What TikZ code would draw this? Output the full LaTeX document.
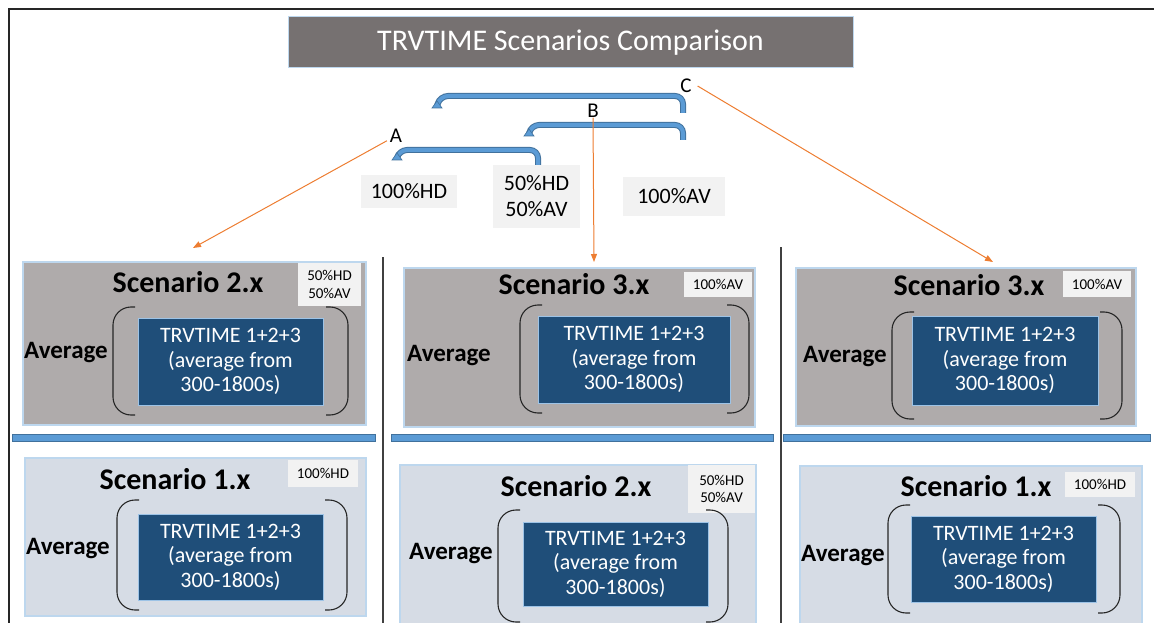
\documentclass[tikz,border=0pt]{standalone}
\usepackage{fontspec}
\setmainfont{Carlito}
\usetikzlibrary{arrows.meta}
\definecolor{titlegray}{HTML}{767171}
\definecolor{topfill}{HTML}{AFABAB}
\definecolor{lowfill}{HTML}{D6DCE5}
\definecolor{panelline}{HTML}{BDD7EE}
\definecolor{tagfill}{HTML}{F2F2F2}
\definecolor{innerblue}{HTML}{1F4E79}
\definecolor{innerline}{HTML}{9DC3E6}
\definecolor{barblue}{HTML}{5B9BD5}
\definecolor{barline}{HTML}{41719C}
\definecolor{orangeln}{HTML}{ED7D31}
\definecolor{frameln}{HTML}{262626}
\begin{document}
\begin{tikzpicture}[x=1pt,y=-1pt,
  every node/.style={inner sep=0pt, outer sep=0pt},
  panel/.style={draw=panelline, line width=1.2pt},
  toppanel/.style={panel, fill=topfill},
  lowpanel/.style={panel, fill=lowfill},
  tagbox/.style={fill=tagfill, align=center, font=\fontsize{15}{17.5}\selectfont},
  biglabel/.style={fill=tagfill, align=center, font=\fontsize{22}{26}\selectfont},
  scentitle/.style={font=\bfseries\fontsize{30}{34}\selectfont},
  avglabel/.style={font=\bfseries\fontsize{25}{28}\selectfont},
  innerbox/.style={fill=innerblue, draw=innerline, line width=1pt, text=white,
    align=center, font=\fontsize{22}{24.5}\selectfont},
  paren/.style={draw=black!85, line width=1.1pt, rounded corners=18pt},
  bracketout/.style={draw=barline, line width=6pt, rounded corners=8pt},
  bracketin/.style={draw=barblue, line width=4pt, rounded corners=8pt},
  orangearrow/.style={draw=orangeln, line width=1pt, -{Triangle[length=8pt,width=6pt]}},
  divider/.style={draw=black!75, line width=1.5pt},
  bar/.style={fill=barblue, draw=barline, line width=0.8pt},
  letter/.style={font=\fontsize{21}{24}\selectfont}
]
\useasboundingbox (0,0) rectangle (1154,623);

% outer frame
\draw[frameln, line width=2.5pt] (9,640) -- (9,9) -- (1160,9);

% title
\node[fill=titlegray, draw=panelline, line width=1pt, minimum width=565pt, minimum height=51pt,
  text=white, font=\fontsize{30}{34}\selectfont] (title) at (570.5,42.5) {TRVTIME Scenarios Comparison};

% bracket arrows
\coordinate (cS) at (683,113); \coordinate (cT) at (437,106);
\coordinate (bS) at (683,140); \coordinate (bT) at (529,134);
\coordinate (aS) at (538,165); \coordinate (aT) at (397,158);
\foreach \s/\h/\t/\x in {cS/96/cT/440, bS/125/bT/531, aS/150/aT/399}{
  \draw[bracketout] (\s) -- (\s |- 0,\h) -- (\x,\h) -- (\t);
  \draw[bracketin]  (\s) -- (\s |- 0,\h) -- (\x,\h) -- (\t);
  \fill[barblue, draw=barline, line width=0.6pt] ([xshift=-5pt,yshift=-2pt]\t) -- ([xshift=5pt,yshift=-2pt]\t) -- ([yshift=5pt]\t) -- cycle;
}

% letters
\node[letter] (C) at (686,86) {C};
\node[letter] (B) at (593,111) {B};
\node[letter] (A) at (396,136) {A};

% mix labels
\node[biglabel, minimum width=96pt, minimum height=33pt] (hd) at (409,191.5) {100\%HD};
\node[biglabel, minimum width=87pt, minimum height=63pt] (mix) at (536.5,196.5) {50\%HD\\50\%AV};
\node[biglabel, minimum width=102pt, minimum height=39pt] (av) at (674,196.5) {100\%AV};

% dividers
\coordinate (d1t) at (383,257); \coordinate (d1b) at (383,630);
\coordinate (d2t) at (781,247); \coordinate (d2b) at (781,630);
\draw[divider] (d1t) -- (d1b);
\draw[divider] (d2t) -- (d2b);

% separating bars
\node[bar, minimum width=363pt, minimum height=7pt] (bar1) at (193.5,437.5) {};
\node[bar, minimum width=382pt, minimum height=7pt] (bar2) at (582,437.5) {};
\node[bar, minimum width=367pt, minimum height=7pt] (bar3) at (966.5,437.5) {};

% upper row panels
\node[toppanel, minimum width=343pt, minimum height=163pt] (p1) at (194.5,343.5) {};
\node[toppanel, minimum width=351pt, minimum height=159pt] (p2) at (579.5,347.5) {};
\node[toppanel, minimum width=340pt, minimum height=158pt] (p3) at (966,347) {};
% lower row panels
\node[lowpanel, minimum width=341pt, minimum height=158pt] (p4) at (195.5,537) {};
\node[lowpanel, minimum width=356pt, minimum height=165pt] (p5) at (578,547.5) {};
\node[lowpanel, minimum width=342pt, minimum height=164pt] (p6) at (971,548) {};

% panel titles
\node[scentitle] (s1) at (188,282) {Scenario 2.x};
\node[scentitle] (s2) at (574,284) {Scenario 3.x};
\node[scentitle] (s3) at (969,285) {Scenario 3.x};
\node[scentitle] (s4) at (175,479) {Scenario 1.x};
\node[scentitle] (s5) at (576,486) {Scenario 2.x};
\node[scentitle] (s6) at (976,486) {Scenario 1.x};

% share tags
\node[tagbox, minimum width=63pt, minimum height=43pt] (t1) at (329.5,284.5) {50\%HD\\50\%AV};
\node[tagbox, minimum width=68pt, minimum height=25pt] (t2) at (718,284.5) {100\%AV};
\node[tagbox, minimum width=68pt, minimum height=26pt] (t3) at (1097,284) {100\%AV};
\node[tagbox, minimum width=70pt, minimum height=27pt] (t4) at (323,473.5) {100\%HD};
\node[tagbox, minimum width=67pt, minimum height=48pt] (t5) at (721.5,489) {50\%HD\\50\%AV};
\node[tagbox, minimum width=70pt, minimum height=25pt] (t6) at (1100,484.5) {100\%HD};

% averaged quantity boxes
\def\innertext{TRVTIME 1+2+3\\(average from\\300-1800s)}
\node[innerbox, minimum width=185pt, minimum height=87pt] (i1) at (230.5,361.5) {\innertext};
\node[innerbox, minimum width=192pt, minimum height=87pt] (i2) at (634,359.5) {\innertext};
\node[innerbox, minimum width=186pt, minimum height=89pt] (i3) at (1005,360.5) {\innertext};
\node[innerbox, minimum width=185pt, minimum height=86pt] (i4) at (230.5,557) {\innertext};
\node[innerbox, minimum width=185pt, minimum height=84pt] (i5) at (615.5,564) {\innertext};
\node[innerbox, minimum width=185pt, minimum height=86pt] (i6) at (1003.5,559) {\innertext};

% round brackets around the boxes
\foreach \l/\r/\t/\b in {113/348/307/415, 520/749/305/413, 892/1122/312/419,
                         117/347/500/610, 498/728/510/622, 888/1120/505/613}{
  \draw[paren] (\l+22,\t) -- (\l,\t) -- (\l,\b) -- (\l+22,\b);
  \draw[paren] (\r-22,\t) -- (\r,\t) -- (\r,\b) -- (\r-22,\b);
}

% Average labels
\node[avglabel] (v1) at (66,353) {Average};
\node[avglabel] (v2) at (449,356) {Average};
\node[avglabel] (v3) at (845,357) {Average};
\node[avglabel] (v4) at (68,549) {Average};
\node[avglabel] (v5) at (451,554) {Average};
\node[avglabel] (v6) at (843,556) {Average};

% orange pointers
\coordinate (aE) at (193,248);
\coordinate (bE) at (594,262);
\coordinate (cE) at (993,262);
\draw[orangearrow] ([xshift=-3pt,yshift=2pt]A.south west) -- (aE);
\draw[orangearrow] (B.south) -- (bE);
\draw[orangearrow] ([xshift=6pt]C.east) -- (cE);
\end{tikzpicture}
\end{document}
